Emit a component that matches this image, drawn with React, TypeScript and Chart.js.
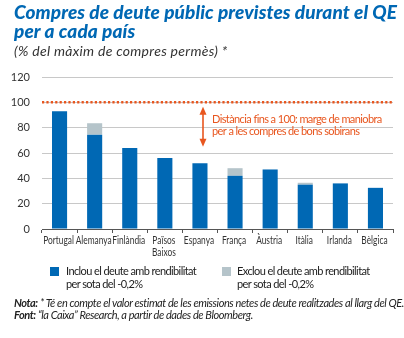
import React, { useEffect, useRef } from "react";
import { Chart, registerables } from "chart.js";

Chart.register(...registerables);

const categories: (string | string[])[] = [
  "Portugal",
  "Alemanya",
  "Finlàndia",
  ["Països", "Baixos"],
  "Espanya",
  "França",
  "Àustria",
  "Itàlia",
  "Irlanda",
  "Bèlgica",
];
// Blue: inclou el deute amb rendibilitat per sota del -0,2%
const inclou = [93, 74.5, 64, 56, 52, 42, 47, 35, 36, 32.5];
// Grey top of the bar (total height of the grey part)
const exclouTop = [93, 83.5, 64, 56, 52, 48, 47, 36.5, 36, 32.5];
const yTicks = [0, 20, 40, 60, 80, 100, 120];
const referenceLevel = 100;

const BLUE = "#0068b4";
const GREY = "#b5c4ca";
const ORANGE = "#e8561f";
const FONT = "Lato, 'Open Sans', sans-serif";

const greyExtra = exclouTop.map((v, i) => Math.max(0, v - inclou[i]));

// draws the category labels of the x scale, horizontally condensed
const xLabelPlugin = {
  id: "xLabels",
  afterDraw(chart: any) {
    const { ctx, chartArea, scales } = chart;
    const xs = scales.x;
    ctx.save();
    ctx.font = `11px ${FONT}`;
    ctx.fillStyle = "#333";
    ctx.textAlign = "center";
    ctx.textBaseline = "middle";
    xs.ticks.forEach((t: any, i: number) => {
      const lab = chart.data.labels[t.value];
      const lines = Array.isArray(lab) ? lab : [lab];
      const x = xs.getPixelForTick(i) - 1;
      lines.forEach((ln: string, j: number) => {
        ctx.save();
        ctx.translate(x, chartArea.bottom + 11.5 + j * 12);
        ctx.scale(0.76, 1);
        ctx.fillText(ln, 0, 0);
        ctx.restore();
      });
    });
    ctx.restore();
  },
};

const overlayPlugin = {
  id: "overlay",
  afterDatasetsDraw(chart: any) {
    const { ctx, chartArea, scales } = chart;
    const y = scales.y.getPixelForValue(referenceLevel);
    ctx.save();
    // dotted line at 100
    ctx.strokeStyle = ORANGE;
    ctx.lineWidth = 2.5;
    ctx.setLineDash([2.2, 2.2]);
    ctx.beginPath();
    ctx.moveTo(chartArea.left, y);
    ctx.lineTo(chartArea.right, y);
    ctx.stroke();
    ctx.setLineDash([]);
    // arrow
    const ax = (scales.x.getPixelForValue(4) + scales.x.getPixelForValue(5)) / 2 - 14.5;
    const yTop = scales.y.getPixelForValue(96.5);
    const yBot = scales.y.getPixelForValue(65);
    ctx.lineWidth = 1.6;
    ctx.beginPath();
    ctx.moveTo(ax, yTop + 5);
    ctx.lineTo(ax, yBot - 5);
    ctx.stroke();
    ctx.fillStyle = ORANGE;
    ctx.beginPath();
    ctx.moveTo(ax, yTop);
    ctx.lineTo(ax - 3.5, yTop + 8);
    ctx.lineTo(ax + 3.5, yTop + 8);
    ctx.closePath();
    ctx.fill();
    ctx.beginPath();
    ctx.moveTo(ax, yBot);
    ctx.lineTo(ax - 3.5, yBot - 8);
    ctx.lineTo(ax + 3.5, yBot - 8);
    ctx.closePath();
    ctx.fill();
    // text
    ctx.font = `11px ${FONT}`;
    ctx.textBaseline = "middle";
    ctx.textAlign = "left";
    (ctx as any).letterSpacing = "-0.6px";
    ctx.fillText("Distància fins a 100: marge de maniobra", ax + 9, yTop + 13);
    ctx.fillText("per a les compres de bons sobirans", ax + 9, yTop + 25);
    ctx.restore();
  },
};

export default function App() {
  const ref = useRef<HTMLCanvasElement>(null);
  useEffect(() => {
    if (!ref.current) return;
    const chart = new Chart(ref.current, {
      type: "bar",
      data: {
        labels: categories,
        datasets: [
          {
            label: "Inclou el deute amb rendibilitat per sota del -0,2%",
            data: inclou,
            backgroundColor: BLUE,
            barPercentage: 0.43,
            categoryPercentage: 1,
            stack: "s",
          },
          {
            label: "Exclou el deute amb rendibilitat per sota del -0,2%",
            data: greyExtra,
            backgroundColor: GREY,
            barPercentage: 0.43,
            categoryPercentage: 1,
            stack: "s",
          },
        ],
      },
      options: {
        animation: false,
        responsive: false,
        devicePixelRatio: 1,
        layout: { padding: { top: 77, left: 0, right: 11, bottom: 0 } },
        plugins: { legend: { display: false }, tooltip: { enabled: false } },
        scales: {
          x: {
            stacked: true,
            grid: {
              drawOnChartArea: false,
              drawTicks: true,
              tickLength: 4,
              color: "#555",
              offset: true,
            },
            border: { color: "#555", width: 1 },
            ticks: {
              display: false,
              autoSkip: false,
            },
            afterFit: (s: any) => {
              s.height = 109;
            },
          },
          y: {
            stacked: true,
            min: 0,
            max: 120,
            afterBuildTicks: (s: any) => {
              s.ticks = yTicks.map((v) => ({ value: v }));
            },
            grid: { color: "#c8c8c8", drawTicks: false },
            border: { display: false },
            ticks: {
              color: "#333",
              font: { family: FONT, size: 11 },
              padding: 12,
            },
            afterFit: (s: any) => {
              s.width = 42;
            },
          },
        },
      },
      plugins: [xLabelPlugin, overlayPlugin],
    });
    return () => chart.destroy();
  }, []);

  const legendText: React.CSSProperties = {
    position: "absolute",
    fontFamily: FONT,
    fontSize: 11,
    lineHeight: "12.5px",
    color: "#222",
    letterSpacing: "-0.6px",
    whiteSpace: "nowrap",
  };
  const note: React.CSSProperties = {
    position: "absolute",
    left: 14,
    fontFamily: FONT,
    fontStyle: "italic",
    fontSize: 11,
    letterSpacing: "-0.42px",
    color: "#222",
    whiteSpace: "nowrap",
    lineHeight: "12px",
  };

  return (
    <div
      style={{
        position: "absolute",
        left: 0,
        top: 0,
        width: 404,
        height: 338,
        background: "#fff",
        overflow: "hidden",
      }}
    >
      <canvas ref={ref} width={404} height={338} style={{ position: "absolute", left: 0, top: 0 }} />
      <div
        style={{
          position: "absolute",
          left: 14,
          top: 2,
          fontFamily: FONT,
          fontWeight: 900,
          fontStyle: "italic",
          fontSize: 19,
          letterSpacing: "0.1px",
          lineHeight: "19px",
          color: BLUE,
          whiteSpace: "nowrap",
        }}
      >
        Compres de deute públic previstes durant el QE
        <br />
        per a cada país
      </div>
      <div
        style={{
          position: "absolute",
          left: 14,
          top: 43,
          fontFamily: FONT,
          fontStyle: "italic",
          fontSize: 14,
          letterSpacing: "0.3px",
          lineHeight: "16px",
          color: "#333",
          whiteSpace: "nowrap",
        }}
      >
        (% del màxim de compres permès) *
      </div>
      <div style={{ position: "absolute", left: 50, top: 267, width: 9, height: 9, background: BLUE }} />
      <div style={{ ...legendText, left: 66, top: 265 }}>
        Inclou el deute amb rendibilitat
        <br />
        per sota del -0,2%
      </div>
      <div style={{ position: "absolute", left: 222, top: 267, width: 9, height: 9, background: GREY }} />
      <div style={{ ...legendText, left: 237, top: 265 }}>
        Exclou el deute amb rendibilitat
        <br />
        per sota del -0,2%
      </div>
      <div style={{ ...note, top: 297 }}>
        <b>Nota:</b> * Té en compte el valor estimat de les emissions netes de deute realitzades al llarg del QE.
      </div>
      <div style={{ ...note, top: 309 }}>
        <b>Font:</b> “la Caixa” Research, a partir de dades de Bloomberg.
      </div>
    </div>
  );
}
